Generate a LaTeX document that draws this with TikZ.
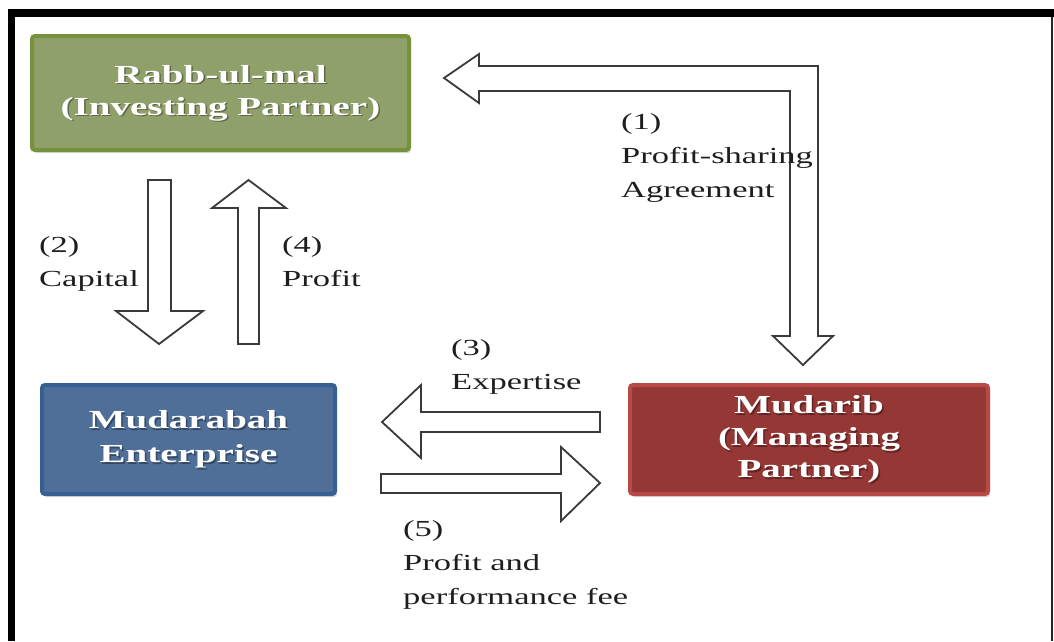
\documentclass[tikz,border=0pt]{standalone}
\usepackage{fontspec}
\setmainfont{Liberation Serif}[FakeStretch=1.5]
\usetikzlibrary{shadows}
\definecolor{gbord}{HTML}{76923C}
\definecolor{gfill}{HTML}{8FA06A}
\definecolor{bbord}{HTML}{366092}
\definecolor{bfill}{HTML}{4F6F98}
\definecolor{rbord}{HTML}{B94946}
\definecolor{rfill}{HTML}{953735}
\definecolor{ink}{HTML}{1E1E1E}
\definecolor{arrowline}{HTML}{3A3A3A}
\tikzset{
  partybox/.style={rectangle, rounded corners=3pt, line width=4pt, inner sep=0pt,
    drop shadow={shadow xshift=2pt, shadow yshift=-3pt, opacity=0.3}},
  boxtext/.style={text=white, align=center, inner sep=0pt,
    font=\bfseries\fontsize{26}{32}\selectfont},
  boxshade/.style={boxtext, text=black, opacity=0.35},
  flowlabel/.style={text=ink, align=left, inner sep=0pt, anchor=base west,
    font=\fontsize{23}{34}\selectfont},
  blockarrow/.style={draw=arrowline, line width=1.8pt, fill=white, line join=miter}
}
\begin{document}
\begin{tikzpicture}[x=1pt, y=-1pt]
\useasboundingbox (0,0) rectangle (1054,641);
% frame
\fill[black] (8,9) rectangle (1054,17);
\fill[black] (8,9) rectangle (15,641);
\fill[black!85] (1051,17) rectangle (1053,641);
% boxes
\node[partybox, draw=gbord, fill=gfill, minimum width=377pt, minimum height=114pt] (rabb) at (220.5,93) {};
\node[partybox, draw=bbord, fill=bfill, minimum width=293pt, minimum height=109pt] (ent) at (188.5,439.5) {};
\node[partybox, draw=rbord, fill=rfill, minimum width=358pt, minimum height=109pt] (mud) at (809,439.5) {};
% box texts
\node[boxshade, shift={(1.5,1.5)}] (rabbs) at (rabb) {Rabb-ul-mal\\(Investing Partner)};
\node[boxtext] (rabbt) at (rabb) {Rabb-ul-mal\\(Investing Partner)};
\node[boxshade, shift={(1.5,1.5)}, font=\bfseries\fontsize{26}{34}\selectfont] (ents) at (ent) {Mudarabah\\Enterprise};
\node[boxtext, font=\bfseries\fontsize{26}{34}\selectfont] (entt) at (ent) {Mudarabah\\Enterprise};
\node[boxshade, shift={(1.5,1.5)}] (muds) at (mud) {Mudarib\\(Managing\\Partner)};
\node[boxtext] (mudt) at (mud) {Mudarib\\(Managing\\Partner)};
% block arrows
% (1) agreement: Mudarib <-> Rabb-ul-mal
\draw[blockarrow] (444,78) -- (479,54) -- (479,66) -- (818,66) -- (818,336) -- (833,336)
  -- (803,365) -- (773,336) -- (790,336) -- (790,91) -- (479,91) -- (479,103) -- cycle;
% (2) capital down
\draw[blockarrow] (148,180) -- (171,180) -- (171,311) -- (203,311) -- (159,344)
  -- (116,311) -- (148,311) -- cycle;
% (4) profit up
\draw[blockarrow] (238,344) -- (259,344) -- (259,208) -- (286,208) -- (248.5,180)
  -- (212,208) -- (238,208) -- cycle;
% (3) expertise left
\draw[blockarrow] (382,422) -- (421,385) -- (421,412) -- (600,412) -- (600,432)
  -- (421,432) -- (421,458) -- cycle;
% (5) profit and fee right
\draw[blockarrow] (381,474) -- (561,474) -- (561,447) -- (600,483) -- (561,521)
  -- (561,493) -- (381,493) -- cycle;
% labels (anchored at the baseline of their last line)
\node[flowlabel] (l1) at (621,197) {(1)\\Profit-sharing\\Agreement};
\node[flowlabel] (l2) at (39,286) {(2)\\Capital};
\node[flowlabel] (l4) at (282,286) {(4)\\Profit};
\node[flowlabel] (l3) at (451,389) {(3)\\Expertise};
\node[flowlabel] (l5) at (403,604) {(5)\\Profit and\\performance fee};
\end{tikzpicture}
\end{document}
